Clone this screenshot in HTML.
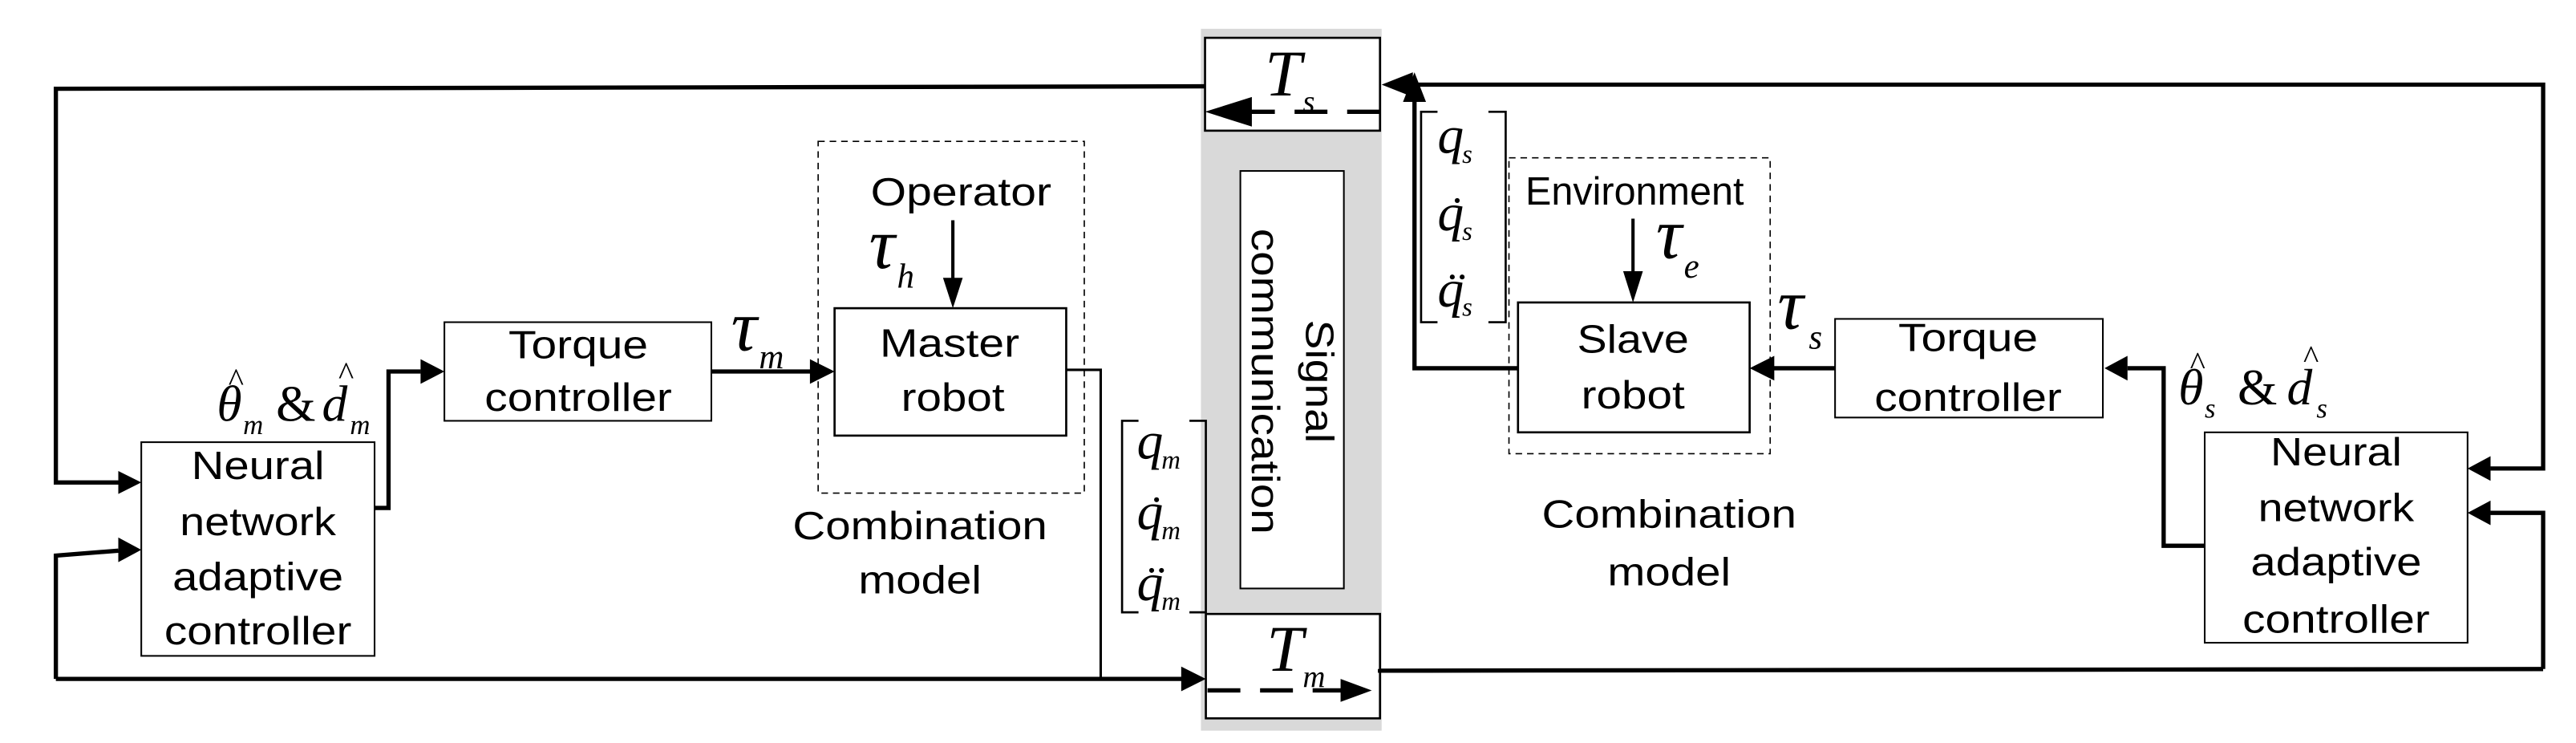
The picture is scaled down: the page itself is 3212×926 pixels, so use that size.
<!DOCTYPE html>
<html><head><meta charset="utf-8"><style>
html,body{margin:0;padding:0;background:#fff;}
svg{display:block;}
.t{font-family:"Liberation Sans",Arial,sans-serif;font-size:24px;fill:#000;}
.m{font-family:"Liberation Serif","Times New Roman",serif;font-style:italic;fill:#000;}
.h{font-family:"Liberation Serif",serif;font-style:normal;}
</style></head><body>
<svg width="3212" height="926" viewBox="0 0 1568 452" preserveAspectRatio="none" xmlns="http://www.w3.org/2000/svg">
<rect x="0" y="0" width="1568" height="452" fill="#fff"/>
<rect x="731" y="17.5" width="110" height="427" fill="#d9d9d9"/>
<rect x="733.5" y="23" width="106.5" height="56.5" fill="#fff" stroke="#000" stroke-width="1.3"/>
<rect x="755" y="104" width="63" height="254" fill="#fff" stroke="#000" stroke-width="1"/>
<rect x="734" y="373.5" width="106" height="63.5" fill="#fff" stroke="#000" stroke-width="1.3"/>

<g fill="none" stroke="#000">
<rect x="86" y="269" width="142" height="130" stroke-width="1"/>
<rect x="270.5" y="196" width="162.5" height="60" stroke-width="1"/>
<rect x="508" y="187.5" width="141" height="77.5" stroke-width="1.3"/>
<rect x="498" y="86" width="162" height="214" stroke-width="0.8" stroke-dasharray="4,3"/>
<rect x="1342" y="263" width="160" height="128" stroke-width="1"/>
<rect x="1117" y="194" width="163" height="60" stroke-width="1"/>
<rect x="924" y="184" width="141" height="79" stroke-width="1.3"/>
<rect x="918.5" y="96" width="159" height="180" stroke-width="0.8" stroke-dasharray="4,3"/>

<path d="M693,256H683V372.5H693M724,256H734V372.5H724" stroke-width="1.3"/>
<path d="M875,68H865V196H875M906,68H916.5V196H906" stroke-width="1.3"/>

<path d="M733.5,52.5L34,54V293.5H72" stroke-width="2.6"/>
<path d="M840,407V408L1548,407" stroke-width="2.6"/>
<path d="M34,413H720" stroke-width="2.6"/>
<path d="M34,413V338L72,335" stroke-width="2.6"/>
<path d="M228,309H236.5V226H256" stroke-width="2.6"/>
<path d="M433,226H494" stroke-width="2.6"/>
<path d="M649,225H670V413" stroke-width="1.5"/>
<path d="M580,134V172" stroke-width="2"/>
<path d="M858,51.5H1548V285H1516" stroke-width="2.6"/>
<path d="M1548,407V312H1516" stroke-width="2.6"/>
<path d="M1342,332H1317V224H1295" stroke-width="2.6"/>
<path d="M1117,224H1079" stroke-width="2.6"/>
<path d="M924,224H861V60" stroke-width="2.6"/>
<path d="M994,133V170" stroke-width="2"/>
<path d="M840,68H760" stroke-width="2.6" stroke-dasharray="20,12"/>
<path d="M735,420H820" stroke-width="2.6" stroke-dasharray="20,12"/>
</g>
<g fill="#000">
<path d="M86,293.5L72,286.5V300.5z"/>
<path d="M86,334.5L72,327V342z"/>
<path d="M270.5,226L256,218.5V233.5z"/>
<path d="M508,226L493,218.5V233.5z"/>
<path d="M734,413L719,405.5V420.5z"/>
<path d="M580,187.5L574,169H586z"/>
<path d="M733.5,68L762,59V77z"/>
<path d="M835,420L816,413V427z"/>
<path d="M841,51.5L860,44V59z"/>
<path d="M861,44L854,62H868z"/>
<path d="M1502,285L1516,277.5V292.5z"/>
<path d="M1502,312L1516,304.5V319.5z"/>
<path d="M1281,224L1295,216.5V231.5z"/>
<path d="M1065,224L1080,216.5V231.5z"/>
<path d="M994,184L988,165H1000z"/>
</g>

<g class="t" text-anchor="middle">
<text x="157" y="291.5" textLength="81" lengthAdjust="spacingAndGlyphs">Neural</text>
<text x="157" y="325.5" textLength="95" lengthAdjust="spacingAndGlyphs">network</text>
<text x="157" y="359" textLength="104" lengthAdjust="spacingAndGlyphs">adaptive</text>
<text x="157" y="392" textLength="114" lengthAdjust="spacingAndGlyphs">controller</text>
<text x="352" y="218" textLength="85" lengthAdjust="spacingAndGlyphs">Torque</text>
<text x="352" y="250" textLength="114" lengthAdjust="spacingAndGlyphs">controller</text>
<text x="578" y="217" textLength="85" lengthAdjust="spacingAndGlyphs">Master</text>
<text x="580" y="250" textLength="63" lengthAdjust="spacingAndGlyphs">robot</text>
<text x="585" y="125" textLength="110" lengthAdjust="spacingAndGlyphs">Operator</text>
<text x="560" y="328" textLength="155" lengthAdjust="spacingAndGlyphs">Combination</text>
<text x="560" y="361" textLength="75" lengthAdjust="spacingAndGlyphs">model</text>

<text x="1422" y="283" textLength="80" lengthAdjust="spacingAndGlyphs">Neural</text>
<text x="1422" y="317" textLength="95" lengthAdjust="spacingAndGlyphs">network</text>
<text x="1422" y="350" textLength="104" lengthAdjust="spacingAndGlyphs">adaptive</text>
<text x="1422" y="385" textLength="114" lengthAdjust="spacingAndGlyphs">controller</text>
<text x="1198" y="213.5" textLength="85" lengthAdjust="spacingAndGlyphs">Torque</text>
<text x="1198" y="250" textLength="114" lengthAdjust="spacingAndGlyphs">controller</text>
<text x="994" y="214.5" textLength="68" lengthAdjust="spacingAndGlyphs">Slave</text>
<text x="994" y="248.5" textLength="63" lengthAdjust="spacingAndGlyphs">robot</text>
<text x="995" y="124.5" textLength="133" lengthAdjust="spacingAndGlyphs">Environment</text>
<text x="1016" y="321" textLength="155" lengthAdjust="spacingAndGlyphs">Combination</text>
<text x="1016" y="356" textLength="75" lengthAdjust="spacingAndGlyphs">model</text>

<text transform="translate(795,232) rotate(90)" x="0" y="0" textLength="75" lengthAdjust="spacingAndGlyphs">Signal</text>
<text transform="translate(762,232) rotate(90)" x="0" y="0" textLength="186" lengthAdjust="spacingAndGlyphs">communication</text>
</g>

<g class="m">
<text x="132" y="256" font-size="31">θ</text><text class="h" x="139" y="238" font-size="20">^</text>
<text x="148" y="264" font-size="17">m</text>
<text x="168" y="256" font-size="31" font-style="normal">&amp;</text>
<text x="196" y="256" font-size="31">d</text><text class="h" x="206" y="234" font-size="20">^</text>
<text x="213" y="264" font-size="17">m</text>

<text x="445" y="213" font-size="44">τ</text><text x="462" y="224" font-size="21">m</text>
<text x="529" y="163" font-size="44">τ</text><text x="546" y="175" font-size="21">h</text>
<text x="1008" y="157" font-size="44">τ</text><text x="1025" y="169" font-size="21">e</text>
<text x="1082" y="200" font-size="44">τ</text><text x="1101" y="212" font-size="21">s</text>

<text x="1326" y="246" font-size="31">θ</text><text class="h" x="1333" y="228" font-size="20">^</text>
<text x="1342" y="254" font-size="17">s</text>
<text x="1362" y="246" font-size="31" font-style="normal">&amp;</text>
<text x="1392" y="246" font-size="31">d</text><text class="h" x="1402" y="224" font-size="20">^</text>
<text x="1410" y="254" font-size="17">s</text>

<text x="692" y="279" font-size="32">q</text><text x="707" y="285" font-size="16">m</text>
<text x="692" y="322" font-size="32">q</text><text x="707" y="328" font-size="16">m</text><circle cx="704" cy="304" r="1.5"/>
<text x="692" y="365" font-size="32">q</text><text x="707" y="371" font-size="16">m</text><circle cx="701" cy="347" r="1.5"/><circle cx="707" cy="347" r="1.5"/>

<text x="875" y="93" font-size="32">q</text><text x="890" y="99" font-size="16">s</text>
<text x="875" y="140" font-size="32">q</text><text x="890" y="146" font-size="16">s</text><circle cx="887" cy="122" r="1.5"/>
<text x="875" y="186.5" font-size="32">q</text><text x="890" y="192" font-size="16">s</text><circle cx="884" cy="168.5" r="1.5"/><circle cx="890" cy="168.5" r="1.5"/>

<text x="770" y="58" font-size="40">T</text><text x="793" y="68" font-size="19">s</text>
<text x="771" y="408" font-size="40">T</text><text x="793" y="418" font-size="19">m</text>
</g>
</svg>
</body></html>
